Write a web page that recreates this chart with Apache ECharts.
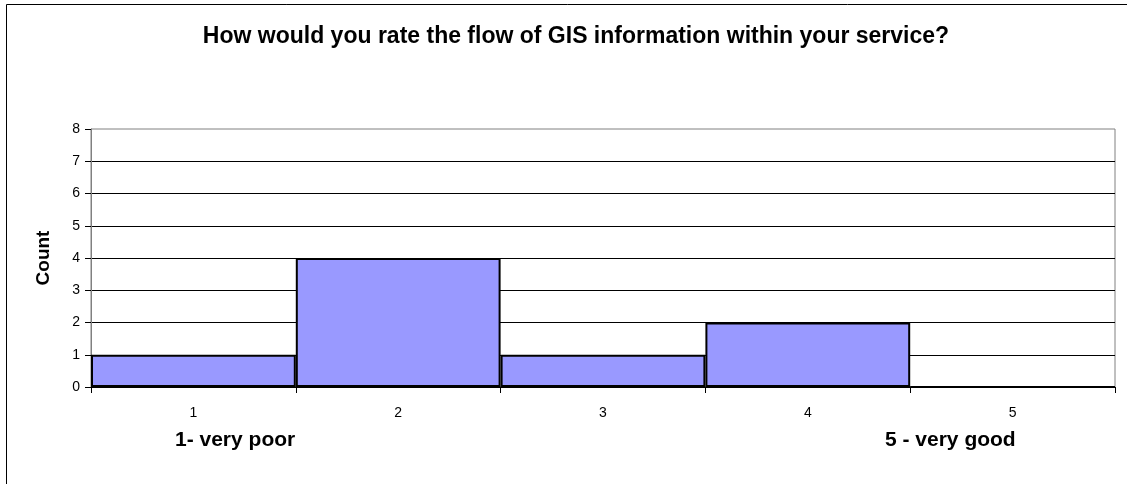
<!DOCTYPE html>
<html>
<head>
<meta charset="utf-8">
<script src="https://cdn.jsdelivr.net/npm/echarts@6/dist/echarts.min.js"></script>
<style>
  html, body { margin: 0; padding: 0; background: #fff; }
  #chartBox { width: 1127px; height: 484px; }
</style>
</head>
<body>
<div id="chartBox"></div>
<script>
const categories = ["1", "2", "3", "4", "5"];
const counts = [1, 4, 1, 2, 0];
const yTicks = { min: 0, max: 8, interval: 1 };
const scaleNotes = ["1- very poor", "5 - very good"];

const myChart = echarts.init(document.getElementById("chartBox"));
const option = {
  backgroundColor: "#fff",
  animation: false,
  title: {
    text: "How would you rate the flow of GIS information within your service?",
    left: 571,
    top: 20,
    textAlign: "center",
    textStyle: { fontFamily: "Arial, Liberation Sans", fontSize: 23, fontWeight: "bold", color: "#000" },
  },
  graphic: [
    {
      type: "rect",
      shape: { x: 6.5, y: 4.5, width: 1300, height: 700 },
      style: { fill: "none", stroke: "#000", lineWidth: 1 },
      silent: true,
    },
    {
      type: "text",
      x: 175,
      y: 430,
      style: { text: scaleNotes[0], font: "bold 21px Arial, 'Liberation Sans'", fill: "#000" },
    },
    {
      type: "text",
      x: 885,
      y: 430,
      style: { text: scaleNotes[1], font: "bold 21px Arial, 'Liberation Sans'", fill: "#000" },
    },
  ],
  grid: {
    left: 91,
    right: 12,
    top: 129,
    bottom: 97,
    show: true,
    borderColor: "#808080",
    borderWidth: 1,
    backgroundColor: "transparent",
  },
  xAxis: {
    type: "category",
    data: categories,
    axisLine: { lineStyle: { color: "#000", width: 1 } },
    axisTick: { show: true, length: 6, lineStyle: { color: "#000" } },
    axisLabel: { margin: 19, fontFamily: "Arial, Liberation Sans", fontSize: 14, color: "#000" },
  },
  yAxis: {
    type: "value",
    min: yTicks.min,
    max: yTicks.max,
    interval: yTicks.interval,
    name: "Count",
    nameLocation: "middle",
    nameGap: 38,
    nameTextStyle: { fontFamily: "Arial, Liberation Sans", fontSize: 19, fontWeight: "bold", color: "#000" },
    axisLine: { show: true, lineStyle: { color: "#808080" } },
    axisTick: { show: true, length: 6, lineStyle: { color: "#000" } },
    axisLabel: { margin: 11, fontFamily: "Arial, Liberation Sans", fontSize: 14, color: "#000" },
    splitLine: { show: true, showMaxLine: false, lineStyle: { color: "#000", width: 1 } },
  },
  series: [
    {
      type: "bar",
      data: counts,
      barCategoryGap: "0%",
      itemStyle: { color: "#9999FF", borderColor: "#000", borderWidth: 2 },
    },
  ],
};
myChart.setOption(option);
</script>
</body>
</html>
